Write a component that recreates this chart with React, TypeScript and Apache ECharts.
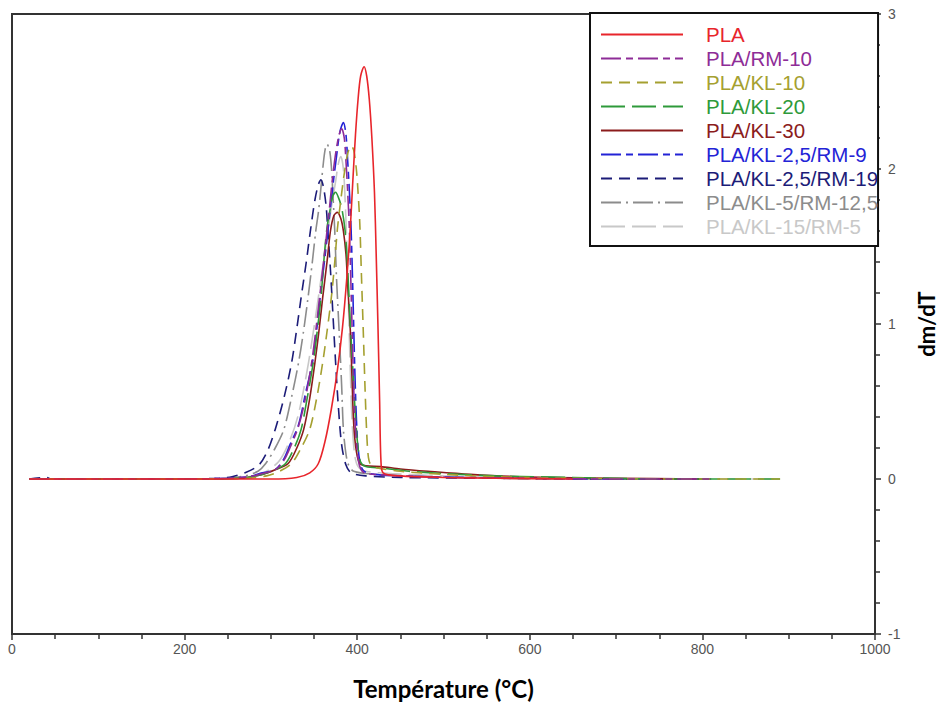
import React, { useEffect, useRef } from "react";
import * as echarts from "echarts";

const seriesNames = [
  "PLA",
  "PLA/RM-10",
  "PLA/KL-10",
  "PLA/KL-20",
  "PLA/KL-30",
  "PLA/KL-2,5/RM-9",
  "PLA/KL-2,5/RM-19",
  "PLA/KL-5/RM-12,5",
  "PLA/KL-15/RM-5",
];

const seriesColors = [
  "#e8252b",
  "#8e2c97",
  "#a5a030",
  "#2e9a3a",
  "#8b1c1c",
  "#2323d6",
  "#1c1c78",
  "#8c8c8c",
  "#c8c8c8",
];

const seriesDash: (number[] | "solid")[] = [
  "solid",
  [20, 5, 7, 5],
  [11, 7],
  [24, 7],
  "solid",
  [20, 5, 7, 5],
  [11, 7],
  [20, 5, 2, 5],
  [24, 7],
];

const yTicks = [-1, 0, 1, 2, 3];

const dataPLA = [
  [20, 0], [100, 0], [200, 0], [300, 0], [330, 0.01], [345, 0.04], [355, 0.1], [363, 0.25],
  [370, 0.45], [377, 0.7], [383, 0.98], [388, 1.3], [392, 1.62], [395, 1.93], [398, 2.22],
  [401, 2.45], [404, 2.6], [408, 2.66], [411, 2.6], [414, 2.45], [417, 2.2], [420, 1.85],
  [422, 1.45], [424, 1.0], [426, 0.5], [427.5, 0.12], [430, 0.04], [450, 0.02], [500, 0.01],
  [560, 0.005], [650, 0],
];

const dataRM10 = [
  [20, 0], [100, 0], [200, 0], [250, 0.005], [275, 0.015], [290, 0.035], [305, 0.06],
  [315, 0.12], [322, 0.2], [332, 0.34], [340, 0.52], [348, 0.78], [356, 1.15], [362, 1.45],
  [367, 1.7], [371, 1.92], [375, 2.1], [379, 2.22], [382, 2.26], [385, 2.2], [387, 2.05],
  [389, 1.85], [391, 1.6], [393, 1.2], [395, 0.78], [397, 0.42], [400, 0.18], [403, 0.08],
  [408, 0.04], [420, 0.03], [450, 0.02], [520, 0.01], [600, 0.005], [700, 0], [810, 0],
];

const dataKL10 = [
  [20, 0], [100, 0], [200, 0], [270, 0.005], [295, 0.02], [310, 0.05], [324, 0.1], [335, 0.2],
  [345, 0.32], [353, 0.52], [360, 0.75], [365, 0.95], [370, 1.17], [374, 1.4], [377, 1.61],
  [381, 1.8], [385, 1.97], [389, 2.1], [393, 2.15], [396, 2.12], [399, 2.0], [401, 1.85],
  [403, 1.65], [405, 1.3], [407, 0.96], [409, 0.6], [411, 0.3], [413, 0.14], [416, 0.09],
  [425, 0.07], [450, 0.05], [500, 0.03], [560, 0.015], [650, 0.005], [750, 0], [890, 0],
];

const dataKL20 = [
  [20, 0], [100, 0], [200, 0], [265, 0.005], [290, 0.03], [305, 0.06], [317, 0.1], [327, 0.2],
  [335, 0.32], [342, 0.52], [349, 0.75], [354, 0.97], [358, 1.17], [362, 1.45], [365, 1.62],
  [369, 1.75], [372, 1.83], [375, 1.85], [378, 1.82], [382, 1.75], [386, 1.6], [389, 1.35],
  [392, 1.0], [395, 0.7], [398, 0.4], [401, 0.2], [404, 0.11], [410, 0.08], [430, 0.07],
  [460, 0.05], [500, 0.035], [560, 0.02], [650, 0.01], [750, 0], [890, 0],
];

const dataKL30 = [
  [20, 0], [100, 0], [200, 0], [265, 0.005], [290, 0.03], [305, 0.06], [320, 0.1], [330, 0.2],
  [338, 0.32], [345, 0.52], [351, 0.75], [356, 0.97], [360, 1.17], [365, 1.4], [369, 1.6],
  [373, 1.7], [377, 1.72], [381, 1.68], [384, 1.6], [387, 1.45], [389, 1.25], [392, 0.96],
  [394, 0.65], [396, 0.35], [399, 0.18], [403, 0.1], [410, 0.085], [427, 0.08], [450, 0.065],
  [482, 0.05], [531, 0.03], [600, 0.012], [700, 0.005], [800, 0],
];

const dataKL25RM9 = [
  [20, 0], [100, 0], [200, 0], [250, 0.005], [275, 0.015], [290, 0.04], [305, 0.06],
  [315, 0.13], [322, 0.22], [332, 0.35], [340, 0.55], [349, 0.78], [357, 1.17], [363, 1.45],
  [368, 1.7], [372, 1.9], [376, 2.08], [380, 2.24], [384, 2.3], [387, 2.22], [389, 2.05],
  [391, 1.85], [393, 1.6], [395, 1.2], [397, 0.75], [399, 0.4], [401, 0.2], [404, 0.09],
  [408, 0.05], [420, 0.03], [450, 0.02], [520, 0.01], [600, 0.005], [700, 0], [810, 0],
];

const dataKL25RM19 = [
  [20, 0], [40, 0.01], [45, 0], [100, 0], [200, 0], [240, 0.005], [255, 0.015], [270, 0.04],
  [286, 0.09], [296, 0.18], [305, 0.32], [315, 0.52], [324, 0.75], [330, 0.97], [335, 1.17],
  [341, 1.4], [346, 1.61], [351, 1.8], [355, 1.9], [358, 1.93], [361, 1.88], [364, 1.76],
  [366, 1.6], [369, 1.35], [372, 1.05], [375, 0.75], [378, 0.48], [382, 0.22], [387, 0.09],
  [393, 0.04], [410, 0.02], [450, 0.01], [550, 0.005], [700, 0], [800, 0],
];

const dataKL5RM125 = [
  [20, 0], [100, 0], [200, 0], [250, 0.005], [270, 0.02], [285, 0.05], [294, 0.1], [305, 0.2],
  [315, 0.32], [324, 0.53], [332, 0.75], [338, 0.96], [343, 1.17], [348, 1.4], [352, 1.6],
  [355, 1.72], [358, 1.88], [361, 2.05], [363, 2.13], [365, 2.16], [368, 2.12], [370, 2.02],
  [372, 1.82], [374, 1.6], [376, 1.3], [379, 0.96], [382, 0.6], [384, 0.32], [387, 0.16],
  [390, 0.09], [396, 0.05], [420, 0.03], [480, 0.015], [560, 0.005], [650, 0], [735, 0],
];

const dataKL15RM5 = [
  [20, 0], [100, 0], [200, 0], [260, 0.005], [280, 0.02], [295, 0.05], [310, 0.12], [322, 0.25],
  [332, 0.42], [342, 0.7], [350, 0.98], [357, 1.25], [364, 1.52], [370, 1.75], [375, 1.92],
  [378, 2.03], [381, 2.08], [384, 2.0], [386, 1.8], [388, 1.5], [390, 1.1], [392, 0.7],
  [394, 0.38], [397, 0.16], [401, 0.08], [410, 0.05], [440, 0.035], [500, 0.02], [580, 0.01],
  [700, 0], [890, 0],
];

const seriesData = [
  dataPLA,
  dataRM10,
  dataKL10,
  dataKL20,
  dataKL30,
  dataKL25RM9,
  dataKL25RM19,
  dataKL5RM125,
  dataKL15RM5,
];

const axisColor = "#333";
const labelFont = "Liberation Sans, Arial, sans-serif";

export default function App() {
  const ref = useRef<HTMLDivElement>(null);
  useEffect(() => {
    const chart = echarts.init(ref.current!, null, { renderer: "svg" });
    const series = seriesNames.map((name, i) => ({
      name,
      type: "line",
      data: seriesData[i],
      symbol: "none",
      smooth: 0.3,
      lineStyle: { color: seriesColors[i], width: 1.6, type: seriesDash[i] },
      itemStyle: { color: seriesColors[i] },
      z: 10 - i,
    }));
    chart.setOption({
      animation: false,
      grid: {
        left: 12,
        right: 65,
        top: 14,
        bottom: 75,
        show: true,
        borderColor: axisColor,
        borderWidth: 2,
        backgroundColor: "transparent",
      },
      legend: {
        orient: "vertical",
        left: 590,
        top: 13,
        selectedMode: false,
        itemWidth: 82,
        itemHeight: 14,
        itemGap: 3,
        padding: [11, 0, 9, 10],
        borderColor: "#111",
        borderWidth: 2,
        backgroundColor: "#fff",
        itemStyle: { opacity: 0 },
        textStyle: {
          fontFamily: labelFont,
          fontSize: 20.5,
          padding: [0, 0, 0, 18],
        },
        data: seriesNames.map((n, i) => ({
          name: n,
          textStyle: { color: seriesColors[i] },
        })),
      },
      xAxis: {
        type: "value",
        min: 0,
        max: 1000,
        interval: 200,
        position: "bottom",
        name: "Température (°C)",
        nameLocation: "middle",
        nameGap: 42,
        nameTextStyle: { fontFamily: "Lato, sans-serif", fontWeight: "bold", fontSize: 24, color: "#000" },
        axisLine: { show: true, onZero: false, lineStyle: { color: axisColor, width: 2 } },
        axisTick: { show: true, inside: false, length: 6, lineStyle: { color: axisColor, width: 1.5 } },
        minorTick: { show: true, splitNumber: 4, length: 5, lineStyle: { color: axisColor, width: 1.5 } },
        axisLabel: {
          fontFamily: labelFont,
          fontSize: 14,
          color: "#555",
          margin: 8,
          formatter: (v: number) => String(v),
        },
        splitLine: { show: false },
      },
      yAxis: {
        type: "value",
        min: -1,
        max: 3,
        interval: 1,
        position: "right",
        name: "dm/dT",
        nameLocation: "middle",
        nameRotate: 90,
        nameGap: 40,
        nameTextStyle: { fontFamily: "Lato, sans-serif", fontWeight: "bold", fontSize: 22, color: "#000" },
        axisLine: { show: true, onZero: false, lineStyle: { color: axisColor, width: 2 } },
        axisTick: { show: true, inside: false, length: 6, lineStyle: { color: axisColor, width: 1.5 } },
        minorTick: { show: true, splitNumber: 5, length: 5, lineStyle: { color: axisColor, width: 1.5 } },
        axisLabel: {
          fontFamily: labelFont,
          fontSize: 14,
          color: "#555",
          margin: 13,
          formatter: (v: number) => (yTicks.includes(v) ? String(v) : ""),
        },
        splitLine: { show: false },
      },
      series,
    });
    return () => chart.dispose();
  }, []);
  return (
    <div
      ref={ref}
      style={{ position: "absolute", left: 0, top: 0, width: 945, height: 709, background: "#fff" }}
    />
  );
}
